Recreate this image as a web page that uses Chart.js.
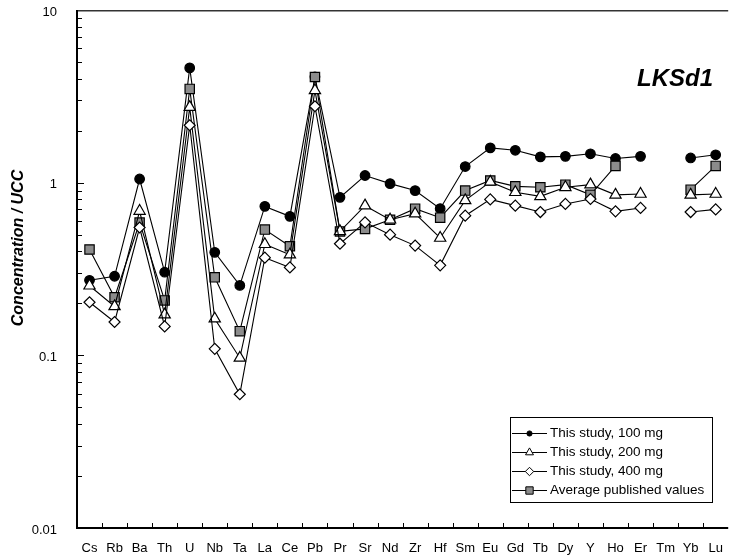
<!DOCTYPE html>
<html>
<head>
<meta charset="utf-8">
<script src="https://cdn.jsdelivr.net/npm/chart.js@4"></script>
<style>
  html, body { margin: 0; padding: 0; background: #fff; overflow: hidden; }
  #wrap { width: 736px; height: 560px; }
</style>
</head>
<body>
<div id="wrap"><canvas id="spider" width="736" height="560"></canvas></div>
<script>
const elements = ["Cs", "Rb", "Ba", "Th", "U", "Nb", "Ta", "La", "Ce", "Pb", "Pr", "Sr", "Nd",
  "Zr", "Hf", "Sm", "Eu", "Gd", "Tb", "Dy", "Y", "Ho", "Er", "Tm", "Yb", "Lu"];

const study100 = [0.272, 0.287, 1.05, 0.303, 4.62, 0.395, 0.254, 0.729, 0.638, 4.1, 0.822, 1.10, 0.987,
  0.90, 0.707, 1.24, 1.59, 1.54, 1.41, 1.42, 1.47, 1.38, 1.42, null, 1.39, 1.45];
const study200 = [0.253, 0.192, 0.685, 0.172, 2.74, 0.163, 0.0966, 0.44, 0.383, 3.42, 0.522, 0.736, 0.61,
  0.661, 0.478, 0.79, 1.01, 0.88, 0.833, 0.94, 0.974, 0.85, 0.86, null, 0.85, 0.86];
const study400 = [0.203, 0.156, 0.55, 0.147, 2.15, 0.109, 0.0595, 0.368, 0.323, 2.77, 0.443, 0.589, 0.50,
  0.432, 0.332, 0.644, 0.80, 0.736, 0.676, 0.753, 0.804, 0.682, 0.714, null, 0.676, 0.70];
const published = [0.41, 0.217, 0.587, 0.208, 3.49, 0.283, 0.138, 0.535, 0.428, 4.09, 0.522, 0.54, 0.61,
  0.707, 0.627, 0.90, 1.03, 0.952, 0.94, 0.974, 0.85, 1.25, null, null, 0.911, 1.25];

const yTicks = [0.01, 0.1, 1, 10];
const sampleName = "LKSd1";
const yTitle = "Concentration / UCC";
const FONT = "'Liberation Sans', Arial, sans-serif";

// legend marker sizes are smaller than the plotted ones
const legendRadius = [2.6, 4.6, 4.2, 5.2];

// invisible grid, only used to push the tick labels away from the axis
const hiddenGrid = (len) => ({
  display: true, drawOnChartArea: false, drawTicks: true, tickLength: len, tickColor: "rgba(0,0,0,0)"
});

const framePlugin = {
  id: "frame",
  afterDraw(chart) {
    const { ctx, chartArea: a, scales } = chart;
    const x = scales.x, y = scales.y;
    ctx.save();

    // y ticks, pointing into the plot
    ctx.strokeStyle = "#000";
    ctx.lineWidth = 1;
    ctx.beginPath();
    for (let e = -2; e <= 1; e++) {
      for (let m = 1; m <= 9; m++) {
        const v = m * Math.pow(10, e);
        if (v > 10.0001) break;
        const py = Math.round(y.getPixelForValue(v)) + 0.5;
        const len = m === 1 ? 7 : 5;
        ctx.moveTo(a.left, py);
        ctx.lineTo(a.left + len, py);
      }
    }
    // x ticks between categories
    for (let i = 1; i < elements.length; i++) {
      const px = Math.round((x.getPixelForTick(i - 1) + x.getPixelForTick(i)) / 2) + 0.5;
      ctx.moveTo(px, a.bottom);
      ctx.lineTo(px, a.bottom - 5);
    }
    ctx.stroke();

    // frame
    ctx.strokeStyle = "#333";
    ctx.lineWidth = 1.5;
    ctx.beginPath();
    ctx.moveTo(a.left, a.top + 0.75);
    ctx.lineTo(a.right, a.top + 0.75);
    ctx.stroke();
    ctx.strokeStyle = "#000";
    ctx.lineWidth = 2;
    ctx.beginPath();
    ctx.moveTo(a.left, a.top);
    ctx.lineTo(a.left, a.bottom);
    ctx.lineTo(a.right, a.bottom);
    ctx.stroke();

    // axis title
    ctx.fillStyle = "#000";
    ctx.save();
    ctx.translate(19, 248);
    ctx.rotate(-Math.PI / 2);
    ctx.font = "italic bold 16px " + FONT;
    ctx.textAlign = "center";
    ctx.textBaseline = "middle";
    ctx.fillText(yTitle, 0, 0);
    ctx.restore();

    // sample name
    ctx.font = "italic bold 24px " + FONT;
    ctx.textAlign = "right";
    ctx.textBaseline = "alphabetic";
    ctx.fillText(sampleName, 713, 86);

    // legend box
    const bx = 510, by = 417, bw = 202, bh = 85;
    ctx.fillStyle = "#fff";
    ctx.fillRect(bx, by, bw, bh);
    ctx.strokeStyle = "#000";
    ctx.lineWidth = 1;
    ctx.strokeRect(bx + 0.5, by + 0.5, bw, bh);
    const rows = [433, 452, 471, 490];
    ctx.font = "13.5px " + FONT;
    ctx.textAlign = "left";
    ctx.textBaseline = "middle";
    chart.data.datasets.forEach((ds, i) => {
      const ry = rows[i] + 0.5;
      ctx.strokeStyle = "#000";
      ctx.lineWidth = 1;
      ctx.beginPath();
      ctx.moveTo(512, ry);
      ctx.lineTo(547, ry);
      ctx.stroke();
      ctx.fillStyle = ds.pointBackgroundColor;
      ctx.strokeStyle = ds.pointBorderColor;
      Chart.helpers.drawPoint(ctx, {
        pointStyle: ds.pointStyle, radius: legendRadius[i], rotation: 0, borderWidth: 1
      }, 529.5, ry);
      ctx.fillStyle = "#000";
      ctx.fillText(ds.label, 550, rows[i]);
    });
    ctx.restore();
  }
};

function series(label, data, style, radius, fill, order) {
  return {
    label, data, order,
    borderColor: "#000",
    borderWidth: 1.1,
    pointStyle: style,
    pointRadius: radius,
    pointBackgroundColor: fill,
    pointBorderColor: "#000",
    pointBorderWidth: 1.2,
    tension: 0,
    spanGaps: false
  };
}

new Chart(document.getElementById("spider").getContext("2d"), {
  type: "line",
  data: {
    labels: elements,
    datasets: [
      series("This study, 100 mg", study100, "circle", 4.8, "#000", 3),
      series("This study, 200 mg", study200, "triangle", 6.5, "#fff", 1),
      series("This study, 400 mg", study400, "rectRot", 5.5, "#fff", 0),
      series("Average published values", published, "rect", 6.6, "#8c8c8c", 2)
    ]
  },
  options: {
    responsive: false,
    animation: false,
    devicePixelRatio: 1,
    layout: { padding: { top: 10, right: 3, left: 0, bottom: 0 } },
    plugins: { legend: { display: false }, tooltip: { enabled: false } },
    scales: {
      x: {
        type: "category",
        offset: true,
        grid: hiddenGrid(13),
        border: { display: false },
        ticks: {
          color: "#000",
          font: { family: FONT, size: 13 },
          padding: 0,
          maxRotation: 0,
          autoSkip: false
        },
        afterFit: (s) => { s.height = 32; }
      },
      y: {
        type: "logarithmic",
        min: 0.01,
        max: 10,
        grid: hiddenGrid(20),
        border: { display: false },
        afterBuildTicks: (s) => { s.ticks = yTicks.map((v) => ({ value: v })); },
        ticks: {
          color: "#000",
          font: { family: FONT, size: 13 },
          padding: 0,
          labelOffset: 2,
          callback: (v) => String(v)
        },
        afterFit: (s) => { s.width = 77; }
      }
    }
  },
  plugins: [framePlugin]
});
</script>
</body>
</html>
